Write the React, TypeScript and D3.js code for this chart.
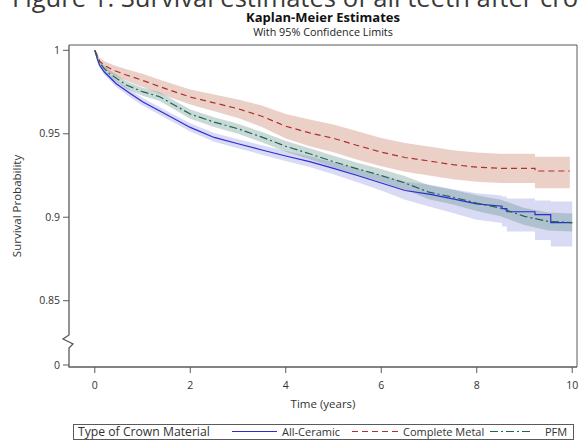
import * as d3 from 'd3'

// survival time points (years) and estimates
const ceramicT = [0, 0.05, 0.1, 0.2, 0.45, 0.75, 1, 1.5, 2, 2.5, 3, 3.5, 4, 4.5, 5, 5.5, 6, 6.5, 7, 7.5, 8, 8.53, 8.53, 8.63, 8.63, 9.22, 9.22, 9.55, 9.55, 10]
const ceramicS = [1, 0.995, 0.991, 0.987, 0.98, 0.974, 0.9692, 0.9615, 0.9538, 0.9478, 0.944, 0.9403, 0.9367, 0.9333, 0.9293, 0.925, 0.9205, 0.916, 0.9138, 0.911, 0.908, 0.9066, 0.9052, 0.9052, 0.9033, 0.9033, 0.9016, 0.9016, 0.8968, 0.8968]
const ceramicLo = [1, 0.9938, 0.9895, 0.9853, 0.978, 0.9718, 0.967, 0.9592, 0.9513, 0.9452, 0.9413, 0.9375, 0.9337, 0.9301, 0.9258, 0.921, 0.916, 0.9105, 0.9065, 0.9025, 0.8985, 0.8965, 0.8945, 0.8945, 0.8915, 0.8915, 0.8864, 0.8864, 0.8825, 0.8825]
const ceramicHi = [1, 0.9962, 0.9925, 0.9887, 0.982, 0.9762, 0.9714, 0.9638, 0.9563, 0.9504, 0.9467, 0.9431, 0.9397, 0.9365, 0.9328, 0.929, 0.925, 0.9212, 0.9196, 0.9168, 0.9144, 0.913, 0.9124, 0.9124, 0.9112, 0.9112, 0.91, 0.91, 0.9094, 0.9094]

const metalT = [0, 0.05, 0.1, 0.2, 0.4, 0.66, 1, 1.36, 2, 2.5, 3, 3.5, 4, 4.5, 5, 5.5, 6, 6.5, 7, 7.5, 8, 8.5, 9.22, 9.22, 9.95]
const metalS = [1, 0.997, 0.9935, 0.991, 0.988, 0.9852, 0.982, 0.9782, 0.972, 0.9685, 0.965, 0.9605, 0.9545, 0.9505, 0.9473, 0.943, 0.939, 0.9358, 0.9337, 0.9315, 0.93, 0.9293, 0.9293, 0.9277, 0.9277]
const metalLo = [1, 0.9955, 0.9915, 0.9885, 0.985, 0.9817, 0.978, 0.974, 0.9675, 0.9635, 0.9595, 0.954, 0.9472, 0.9425, 0.939, 0.9345, 0.9305, 0.9272, 0.925, 0.9228, 0.9212, 0.9205, 0.9205, 0.9174, 0.9174]
const metalHi = [1, 0.9985, 0.9955, 0.9935, 0.991, 0.9887, 0.986, 0.9824, 0.9765, 0.9735, 0.9705, 0.967, 0.9618, 0.9585, 0.9556, 0.9515, 0.9475, 0.9444, 0.9424, 0.9402, 0.9388, 0.9381, 0.9381, 0.9363, 0.9363]

const pfmT = [0, 0.05, 0.1, 0.2, 0.31, 0.66, 1, 1.36, 2, 2.5, 3, 3.5, 4, 4.5, 5, 5.5, 6, 6.5, 7, 7.5, 8, 8.5, 9, 9.5, 10]
const pfmS = [1, 0.996, 0.9925, 0.989, 0.986, 0.9792, 0.9752, 0.9722, 0.9618, 0.957, 0.953, 0.948, 0.9425, 0.938, 0.9333, 0.929, 0.925, 0.9205, 0.915, 0.912, 0.9085, 0.9055, 0.9005, 0.8975, 0.8968]
const pfmLo = [1, 0.995, 0.991, 0.9872, 0.984, 0.977, 0.9728, 0.9696, 0.959, 0.9541, 0.95, 0.9449, 0.9393, 0.9347, 0.9298, 0.9253, 0.9211, 0.9164, 0.9108, 0.9076, 0.9038, 0.9006, 0.8954, 0.8921, 0.8914]
const pfmHi = [1, 0.997, 0.994, 0.9908, 0.988, 0.9814, 0.9776, 0.9748, 0.9646, 0.9599, 0.956, 0.9511, 0.9457, 0.9413, 0.9368, 0.9327, 0.9289, 0.9246, 0.9192, 0.9164, 0.9132, 0.9104, 0.9056, 0.9029, 0.9022]

const xTicks = [0, 2, 4, 6, 8, 10]
const yTicks = [0, 0.85, 0.9, 0.95, 1]
const yTickLabels = ['0', '0.85', '0.9', '0.95', '1']

const W = 579
const H = 441
const FONT = '"Open Sans", "Noto Sans", sans-serif'
const L = 69
const R = 577
const T = 45
const B = 367
const BREAK_TOP = 335
const BREAK_BOT = 348

const x = d3.scaleLinear().domain([-0.54, 10.1]).range([L, R])
const yMain = d3.scaleLinear().domain([0.85, 1]).range([300.7, 50.3])
const yLow = d3.scaleLinear().domain([0, 0.01]).range([365, 348])
const y = (v: number) => (v >= 0.8 ? yMain(v) : yLow(v))

const series = [
  { name: 'All-Ceramic', t: ceramicT, s: ceramicS, lo: ceramicLo, hi: ceramicHi, line: '#2f2bd4', band: '#9a9fe0', bandOp: 0.38, dash: null },
  { name: 'Complete Metal', t: metalT, s: metalS, lo: metalLo, hi: metalHi, line: '#b0302c', band: '#d08e7d', bandOp: 0.42, dash: '6,4' },
  { name: 'PFM', t: pfmT, s: pfmS, lo: pfmLo, hi: pfmHi, line: '#1f6356', band: '#5f8f86', bandOp: 0.34, dash: '8,3,2,3' },
]

type Pt = [number, number, number, number]

const line = d3.line<Pt>().x((d) => x(d[0])).y((d) => y(d[1]))
const area = d3.area<Pt>().x((d) => x(d[0])).y0((d) => y(d[2])).y1((d) => y(d[3]))

function pts(sr: (typeof series)[number]): Pt[] {
  return sr.t.map((t, i) => [t, sr.s[i], sr.lo[i], sr.hi[i]])
}

export default function App() {
  const axis = '#5a5a5a'
  const txt = '#333'
  // legend sample positions
  const legend = [
    { sr: series[0], x0: 232, x1: 277, tx: 282 },
    { sr: series[1], x0: 352, x1: 398, tx: 403 },
    { sr: series[2], x0: 490, x1: 533, tx: 545 },
  ]
  const ly = 431.5
  return (
    <svg width={W} height={H} style={{ position: 'absolute', left: 0, top: 0, background: '#fff' }} fontFamily={FONT}>
      <defs>
        <clipPath id="plotclip">
          <rect x={L} y={T} width={R - L} height={B - T} />
        </clipPath>
      </defs>
      <rect x={0} y={0} width={W} height={H} fill="#fff" />

      <text x={12} y={7} fontSize={25.6} fill="#3a3a3a">
        Figure 1: Survival estimates of all teeth after crown placement
      </text>
      <text x={(L + R) / 2} y={21.5} textAnchor="middle" fontSize={13} fontWeight={700} fill="#111">
        Kaplan-Meier Estimates
      </text>
      <text x={(L + R) / 2} y={36} textAnchor="middle" fontSize={10.8} fill="#222">
        With 95% Confidence Limits
      </text>

      <g clipPath="url(#plotclip)">
        {series.map((sr) => (
          <path key={sr.name + 'b'} d={area(pts(sr)) || ''} fill={sr.band} fillOpacity={sr.bandOp} />
        ))}
        {series.map((sr) => (
          <path
            key={sr.name + 'l'}
            d={line(pts(sr)) || ''}
            fill="none"
            stroke={sr.line}
            strokeWidth={1.2}
            strokeDasharray={sr.dash || undefined}
          />
        ))}
      </g>

      {/* frame */}
      <line x1={L} x2={R} y1={T} y2={T} stroke={axis} />
      <line x1={R} x2={R} y1={T} y2={B} stroke={axis} />
      <line x1={L - 0.5} x2={R} y1={B} y2={B} stroke={axis} strokeWidth={1.3} />
      <path
        d={`M${L},${T} V${BREAK_TOP} L${L - 6},${BREAK_TOP + 4} L${L + 4},${BREAK_TOP + 9} L${L},${BREAK_BOT} V${B}`}
        fill="none"
        stroke={axis}
        strokeWidth={1.3}
      />

      {yTicks.map((v, i) => (
        <g key={v} transform={`translate(0,${y(v)})`}>
          <line x1={L - 6} x2={L} stroke={axis} />
          <text x={L - 9} dy="0.35em" textAnchor="end" fontSize={10.5} fill={txt}>
            {yTickLabels[i]}
          </text>
        </g>
      ))}
      {xTicks.map((v) => (
        <g key={v} transform={`translate(${x(v)},0)`}>
          <line y1={B} y2={B + 6} stroke={axis} />
          <text y={389} textAnchor="middle" fontSize={10.5} fill={txt}>
            {v}
          </text>
        </g>
      ))}

      <text x={(L + R) / 2} y={408} textAnchor="middle" fontSize={11.5} fill={txt}>
        Time (years)
      </text>
      <text transform={`translate(21,${(T + B) / 2}) rotate(-90)`} textAnchor="middle" fontSize={11.5} fill={txt}>
        Survival Probability
      </text>

      {/* legend */}
      <rect x={73.5} y={424.5} width={500} height={15} fill="none" stroke={axis} />
      <text x={78} y={435.8} fontSize={12.2} fill={txt}>
        Type of Crown Material
      </text>
      {legend.map((d) => (
        <g key={d.sr.name}>
          <line
            x1={d.x0}
            x2={d.x1}
            y1={ly}
            y2={ly}
            stroke={d.sr.line}
            strokeWidth={1.1}
            strokeDasharray={d.sr.dash || undefined}
          />
          <text x={d.tx} y={435.8} fontSize={11} fill={txt}>
            {d.sr.name}
          </text>
        </g>
      ))}
    </svg>
  )
}
